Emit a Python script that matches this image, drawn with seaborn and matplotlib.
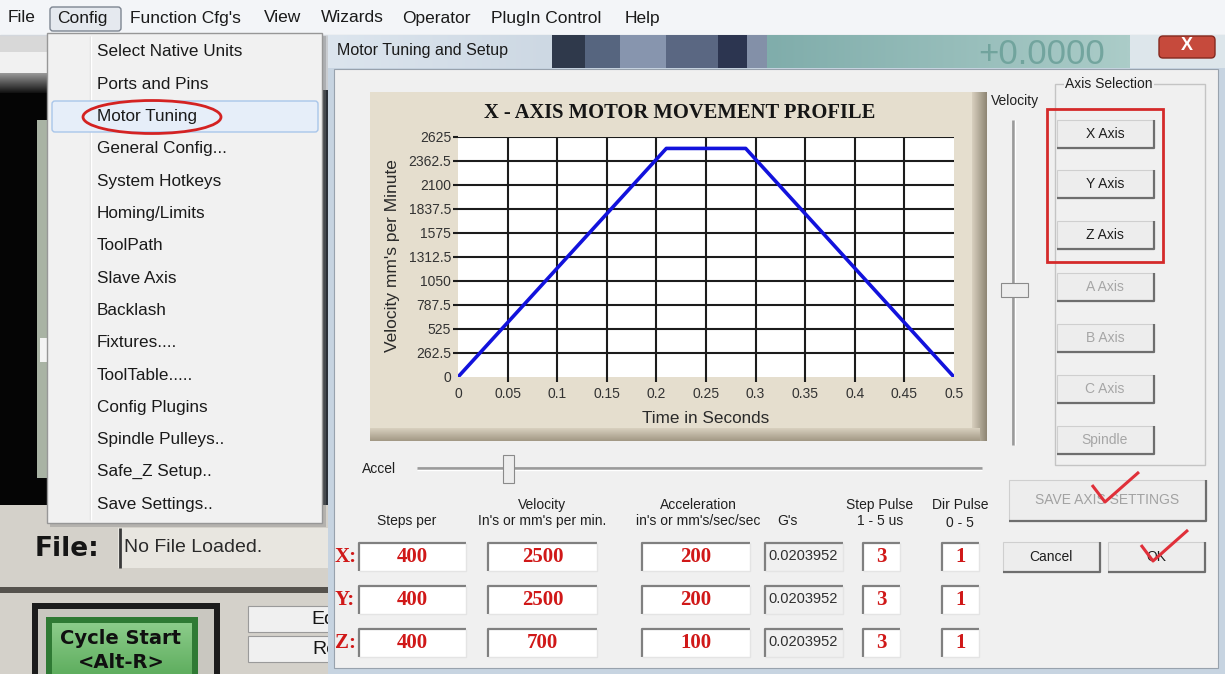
import numpy as np
import pandas as pd
import seaborn as sns
import matplotlib
matplotlib.use('Agg')
import matplotlib.pyplot as plt
from matplotlib.colors import to_rgb
from matplotlib.patches import Rectangle, FancyBboxPatch, Ellipse

# velocity profile
time_s = [0.0, 0.21, 0.29, 0.5]
velocity_mm = [0, 2500, 2500, 0]
x_ticks = [0, 0.05, 0.1, 0.15, 0.2, 0.25, 0.3, 0.35, 0.4, 0.45, 0.5]
x_tick_labels = ['0', '0.05', '0.1', '0.15', '0.2', '0.25', '0.3', '0.35', '0.4', '0.45', '0.5']
y_ticks = [0, 262.5, 525, 787.5, 1050, 1312.5, 1575, 1837.5, 2100, 2362.5, 2625]
y_tick_labels = ['0', '262.5', '525', '787.5', '1050', '1312.5', '1575', '1837.5',
                 '2100', '2362.5', '2625']

# window texts
menu_bar = ['File', 'Config', "Function Cfg's", 'View', 'Wizards', 'Operator', 'PlugIn Control', 'Help']
config_items = ['Select Native Units', 'Ports and Pins', 'Motor Tuning', 'General Config...',
                'System Hotkeys', 'Homing/Limits', 'ToolPath', 'Slave Axis', 'Backlash',
                'Fixtures....', 'ToolTable.....', 'Config Plugins', 'Spindle Pulleys..',
                'Safe_Z Setup..', 'Save Settings..']
axis_buttons = ['X Axis', 'Y Axis', 'Z Axis', 'A Axis', 'B Axis', 'C Axis', 'Spindle']
axis_enabled = [True, True, True, False, False, False, False]

col_top = ['', 'Velocity', 'Acceleration', '', 'Step Pulse', 'Dir Pulse']
col_bottom = ['Steps per', "In's or mm's per min.", "in's or mm's/sec/sec", "G's", '1 - 5 us', '0 - 5']
row_axes = ['X:', 'Y:', 'Z:']
steps_per = [400, 400, 400]
velocity = [2500, 2500, 700]
acceleration = [200, 200, 100]
g_force = ['0.0203952', '0.0203952', '0.0203952']
step_pulse = [3, 3, 3]
dir_pulse = [1, 1, 1]

W, H = 1225, 674
UI = 'Liberation Sans'
SERIF = 'Liberation Serif'
RED = '#d01818'

plt.rcParams['font.family'] = [UI, 'DejaVu Sans']

fig = plt.figure(figsize=(W / 100, H / 100), dpi=100)
bg = fig.add_axes([0, 0, 1, 1])
bg.set_xlim(0, W)
bg.set_ylim(H, 0)
bg.axis('off')


def box(x0, y0, x1, y1, fc, ec='none', lw=0.0, z=1, alpha=1.0):
    bg.add_patch(Rectangle((x0, y0), x1 - x0, y1 - y0, facecolor=fc, edgecolor=ec,
                           linewidth=lw, zorder=z, alpha=alpha))


def grad(x0, y0, x1, y1, c0, c1, vertical=False, z=1):
    t = np.linspace(0, 1, 64)[:, None]
    cols = (1 - t) * np.array(to_rgb(c0)) + t * np.array(to_rgb(c1))
    img = cols[:, None, :] if vertical else cols[None, :, :]
    bg.imshow(img, extent=(x0, x1, y1, y0), aspect='auto', zorder=z, interpolation='bilinear')


def line(xs, ys, c, lw=1.0, z=2):
    bg.plot(xs, ys, color=c, linewidth=lw, zorder=z, solid_capstyle='butt')


def txt(x, y, s, size=10, color='#202020', ha='left', va='center', z=3, **kw):
    bg.text(x, y, s, fontsize=size, color=color, ha=ha, va=va, zorder=z, **kw)


def raised(x0, y0, x1, y1, z=5):
    box(x0, y0, x1, y1, '#ededed', ec='#cfcfcf', lw=0.8, z=z)
    line([x0, x1, x1], [y1, y1, y0], '#6e6e6e', 1.6, z + 0.1)


def sunken(x0, y0, x1, y1, fc='white', z=5):
    box(x0, y0, x1, y1, fc, z=z)
    line([x0, x0, x1], [y1, y0, y0], '#808080', 1.6, z + 0.1)
    line([x0, x1, x1], [y1, y1, y0], '#e4e4e4', 1.0, z + 0.1)


# ---- main Mach3 window behind everything ----
box(0, 0, W, 35, '#f3f5f8')
line([0, W], [34.5, 34.5], '#d3d7dd')
box(0, 35, 47, 52, '#d8d8d8')
box(0, 52, 47, 73, '#f1f1f1')
grad(0, 73, 47, 93, '#9a9a9a', '#111111', vertical=True)
box(0, 93, 47, 505, '#050505')
box(37, 120, 47, 478, '#a9b3a4')
box(40, 338, 47, 362, '#f4f4f4')
box(322, 35, 334, H, '#2a2f36')
box(322, 35, 334, 90, '#c9ccd0')

box(0, 505, 330, 588, '#d4d1ca')
box(0, 587, 330, 593, '#55524d')
box(0, 593, 330, H, '#d4d1ca')
box(118, 528, 330, 568, '#e8e6e0')
line([119.5, 119.5], [528, 568], '#3a3a3a', 2.0)
txt(35, 549, 'File:', 19, '#151515', family='DejaVu Sans', fontweight='bold')
txt(124, 548, 'No File Loaded.', 14, '#2a2a2a')

box(32, 603, 220, H, '#1c1c1c')
box(38, 609, 214, H, '#c9c7c0')
box(46, 617, 198, H, '#2f7a34')
grad(52, 623, 192, H, '#8ccc8a', '#5fae5f', vertical=True, z=1.5)
txt(121, 639, 'Cycle Start', 14, '#101010', ha='center', family='DejaVu Sans', fontweight='bold')
txt(121, 662, '<Alt-R>', 14, '#101010', ha='center', family='DejaVu Sans', fontweight='bold')
box(248, 606, 334, 632, '#f0f0f0', ec='#9a9a9a', lw=0.8)
box(248, 636, 334, 662, '#f0f0f0', ec='#9a9a9a', lw=0.8)
txt(311, 619, 'Ed', 14, '#151515')
txt(312, 649, 'Re', 14, '#151515')

# menu bar
bg.add_patch(FancyBboxPatch((50, 7), 71, 24, boxstyle='round,pad=0,rounding_size=3',
                            facecolor='#e5e9ef', edgecolor='#7d8591', linewidth=1.0, zorder=2))
menu_x = [8, 57, 130, 264, 321, 402, 491, 625]
for label, mx in zip(menu_bar, menu_x):
    txt(mx, 18, label, 12.5, '#1a1a1a')

# ---- dialog ----
box(328, 35, W, H, '#c7d4e1', z=4)
grad(328, 35, 552, 68, '#dce5ee', '#cdd8e3', z=4.1)
title_strip = [(552, 585, '#2f394b'), (585, 620, '#56657f'), (620, 666, '#8795ae'),
               (666, 718, '#5a6782'), (718, 747, '#2c3550'), (747, 767, '#8390a8')]
for x0, x1, c in title_strip:
    box(x0, 35, x1, 68, c, z=4.1)
grad(767, 35, 1130, 68, '#80adab', '#abccc8', z=4.1)
box(1130, 35, W, 68, '#dde6eb', z=4.1)
txt(1105, 54, '+0.0000', 25, '#6a9f98', ha='right', z=4.3, alpha=0.85)
txt(337, 51, 'Motor Tuning and Setup', 11.5, '#1a1a1a', z=4.3)
bg.add_patch(FancyBboxPatch((1159, 36), 56, 22, boxstyle='round,pad=0,rounding_size=4',
                            facecolor='#c64a3c', edgecolor='#85291f', linewidth=1.0, zorder=4.3))
txt(1187, 46, 'X', 13, 'white', ha='center', z=4.4, fontweight='bold')
box(334, 69, 1218, 668, '#f0f0f0', ec='#98a2ad', lw=0.8, z=4.5)

# chart panel
box(372, 94, 987, 441, '#9c937f', z=5)
box(370, 92, 980, 434, '#e5dece', z=5.1)
grad(972, 92, 987, 441, '#d8d0bf', '#8e8573', z=5.2)
grad(370, 428, 980, 441, '#d8d0bf', '#a29884', vertical=True, z=5.2)

# velocity slider
txt(1015, 101, 'Velocity', 10, '#202020', ha='center', z=6)
line([1012.5, 1012.5], [120, 445], '#9a9a9a', 2.0, z=6)
line([1014.5, 1014.5], [120, 445], '#ffffff', 1.0, z=6)
box(1001, 283, 1028, 297, '#ededed', ec='#8a8a8a', lw=0.8, z=6.2)

# axis selection group
box(1055, 84, 1205, 465, 'none', ec='#c4c4c4', lw=1.0, z=5.5)
txt(1065, 84, 'Axis Selection', 10, '#202020', z=6,
    bbox=dict(facecolor='#f0f0f0', edgecolor='none', pad=1))
btn_top = [120, 170, 221, 273, 324, 375, 426]
for label, en, top in zip(axis_buttons, axis_enabled, btn_top):
    raised(1057, top, 1154, top + 28, z=6)
    txt(1105, top + 14, label, 10, '#1e1e1e' if en else '#a6a6a6', ha='center', z=6.5)
box(1047, 109, 1163, 262, 'none', ec='#d42a2a', lw=2.0, z=7)

# accel slider
txt(362, 469, 'Accel', 10, '#202020', z=6)
line([417, 982], [467.5, 467.5], '#9a9a9a', 2.0, z=6)
line([417, 982], [469.5, 469.5], '#ffffff', 1.0, z=6)
box(503, 455, 514, 483, '#ededed', ec='#8a8a8a', lw=0.8, z=6.2)

# parameter table
col_x = [407, 542, 698, 787, 880, 960]
for top, bottom, cx in zip(col_top, col_bottom, col_x):
    if top:
        txt(cx, 505, top, 10, '#202020', ha='center', z=6)
    txt(cx, 521 if cx not in (960,) else 523, bottom, 10, '#202020', ha='center', z=6)

row_y = [557, 600, 643]
for i, ry in enumerate(row_y):
    txt(335, ry, row_axes[i], 15, RED, z=6, family=SERIF, fontweight='bold')
    cells = [(359, 466, steps_per[i]), (488, 597, velocity[i]), (642, 750, acceleration[i]),
             (863, 900, step_pulse[i]), (942, 979, dir_pulse[i])]
    for x0, x1, val in cells:
        sunken(x0, ry - 14, x1, ry + 14, z=6)
        txt((x0 + x1) / 2, ry, str(val), 15, RED, ha='center', z=6.5, family=SERIF, fontweight='bold')
    sunken(765, ry - 14, 843, ry + 14, fc='#f0f0f0', z=6)
    txt(768, ry - 1, g_force[i], 10.5, '#303030', z=6.5)

# dialog buttons
raised(1009, 480, 1206, 521, z=6)
txt(1107, 500, 'SAVE AXIS SETTINGS', 10, '#a2a2a2', ha='center', z=6.5)
raised(1003, 542, 1100, 572, z=6)
txt(1051, 557, 'Cancel', 10, '#1e1e1e', ha='center', z=6.5)
raised(1108, 542, 1205, 572, z=6)
txt(1156, 557, 'OK', 10, '#1e1e1e', ha='center', z=6.5)
line([1092, 1105, 1139], [485, 502, 472], '#e0303a', 2.2, z=8)
line([1141, 1153, 1188], [545, 561, 530], '#e0303a', 2.2, z=8)

# ---- config drop-down menu ----
box(50, 36, 326, 527, '#7a7a7a', z=9.5, alpha=0.35)
box(47, 33, 322, 523, '#f1f1f1', ec='#979797', lw=1.0, z=10)
line([90, 90], [36, 520], '#e0e0e0', 1.0, z=10.2)
line([91, 91], [36, 520], '#ffffff', 1.0, z=10.2)
bg.add_patch(FancyBboxPatch((52, 101), 266, 31, boxstyle='round,pad=0,rounding_size=3',
                            facecolor='#e6eef9', edgecolor='#a9c6ea', linewidth=1.0, zorder=10.4))
for i, item in enumerate(config_items):
    txt(97, 52 + 32.3 * i, item, 12.3, '#1a1a1a', z=11)
bg.add_patch(Ellipse((152, 117), 138, 33, facecolor='none', edgecolor='#d42222',
                     linewidth=2.0, zorder=12))

bg.set_xlim(0, W)
bg.set_ylim(H, 0)

# ---- the motor movement profile chart ----
df = pd.DataFrame({'Time': time_s, 'Velocity': velocity_mm})
ax = fig.add_axes([458 / W, (H - 377) / H, 496 / W, 240 / H])
ax.set_facecolor('white')
sns.lineplot(data=df, x='Time', y='Velocity', ax=ax, color='#1212dc', linewidth=2.6, zorder=3)
ax.set_xlim(0, 0.5)
ax.set_ylim(0, 2625)
ax.set_xticks(x_ticks, x_tick_labels)
ax.set_yticks(y_ticks, y_tick_labels)
ax.grid(True, color='#1c1c1c', linewidth=1.5)
ax.set_axisbelow(True)
for s in ax.spines.values():
    s.set_visible(False)
ax.tick_params(length=3.5, width=1.5, color='#1c1c1c', labelsize=10, labelcolor='#333333', pad=1.5)
ax.tick_params(axis='x', pad=4)

xt = ax.xaxis.get_major_ticks()
yt = ax.yaxis.get_major_ticks()
for t in (xt[0], xt[-1], yt[0]):
    t.gridline.set_visible(False)
    t.tick1line.set_visible(False)

ax.set_xlabel('Time in Seconds', fontsize=12.3, color='#2a2a2a')
ax.xaxis.set_label_coords(0.5, -0.171)
ax.xaxis.label.set_va('center')
ax.set_ylabel("Velocity mm's per Minute", fontsize=12.5, color='#2a2a2a')
ax.yaxis.set_label_coords(-0.133, 0.505)
ax.yaxis.label.set_va('center')
ax.text(0.447, 1.1, 'X - AXIS MOTOR MOVEMENT PROFILE', transform=ax.transAxes, ha='center',
        va='center', fontsize=14.8, fontweight='bold', family=SERIF, color='#151515')

fig.savefig('out.png', dpi=100)
